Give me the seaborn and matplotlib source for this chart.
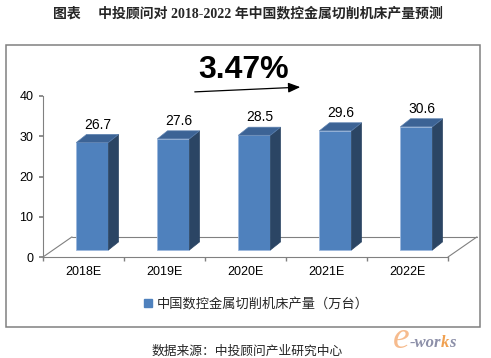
import numpy as np
import pandas as pd
import matplotlib
matplotlib.use("Agg")
import matplotlib.pyplot as plt
import seaborn as sns
from matplotlib.patches import Polygon, Rectangle, Patch

# chart data
years = ["2018E", "2019E", "2020E", "2021E", "2022E"]
output = [26.7, 27.6, 28.5, 29.6, 30.6]
y_ticks = [0, 10, 20, 30, 40]
growth_label = "3.47%"
series_name = "中国数控金属切削机床产量（万台）"
title = "图表　 中投顾问对 2018-2022 年中国数控金属切削机床产量预测"
source = "数据来源：中投顾问产业研究中心"

FRONT = "#4F81BD"
SIDE = "#2B4564"
TOP = "#3C6395"
GRID = "#808080"

sns.set_theme(style="white")
plt.rcParams["font.family"] = ["Liberation Sans", "Noto Sans CJK SC"]

fig = plt.figure(figsize=(4.91, 3.58), dpi=100)
W, H = 491, 358
ax = fig.add_axes([43 / W, (H - 257) / H, 405 / W, 161 / H])

df = pd.DataFrame({"year": years, "value": output})
sns.barplot(data=df, x="year", y="value", color=FRONT, saturation=1,
            width=0.395, edgecolor="#9DB9DD", linewidth=0.6, ax=ax)

ax.set_xlim(-0.5, len(years) - 0.5)
ax.set_ylim(0, 40)
ax.set_yticks(y_ticks)
ax.set_xlabel("")
ax.set_ylabel("")

# pseudo 3D: shift the front faces back into the floor and add side/top faces
FX, FY = 0.11, 1.75      # front-face offset inside the floor depth
DX, DY = 0.125, 2.0      # bar depth
FLOOR_X, FLOOR_Y = 0.358, 5.0
for p, v in zip(ax.patches, output):
    p.set_x(p.get_x() + FX)
    p.set_y(p.get_y() + FY)
    x0, w = p.get_x(), p.get_width()
    y0, y1 = p.get_y(), p.get_y() + p.get_height()
    side = Polygon([(x0 + w, y0), (x0 + w + DX, y0 + DY), (x0 + w + DX, y1 + DY), (x0 + w, y1)],
                   closed=True, fc=SIDE, ec=SIDE, lw=0.5, zorder=p.get_zorder())
    top = Polygon([(x0, y1), (x0 + DX, y1 + DY), (x0 + w + DX, y1 + DY), (x0 + w, y1)],
                  closed=True, fc=TOP, ec="#5A7FAE", lw=0.5, zorder=p.get_zorder())
    ax.add_patch(side)
    ax.add_patch(top)
    ax.annotate(f"{v:.1f}", (x0 + w / 2 + DX / 2, y1 + DY), xytext=(0, 2),
                textcoords="offset points", ha="center", va="bottom",
                fontsize=10, color="black")

# floor outline
xl, xr = -0.5, len(years) - 0.5
ax.plot([xl, xl + FLOOR_X], [0, FLOOR_Y], color=GRID, lw=0.8, clip_on=False, zorder=0.5)
ax.plot([xr, xr + FLOOR_X], [0, FLOOR_Y], color=GRID, lw=0.8, clip_on=False, zorder=0.5)
ax.plot([xl + FLOOR_X, xr + FLOOR_X], [FLOOR_Y, FLOOR_Y], color=GRID, lw=0.8, clip_on=False, zorder=0.5)

for s in ["top", "right"]:
    ax.spines[s].set_visible(False)
for s in ["left", "bottom"]:
    ax.spines[s].set_color(GRID)
    ax.spines[s].set_linewidth(0.8)

ax.set_xticks(np.arange(len(years) + 1) - 0.5, minor=True)
ax.tick_params(axis="x", which="major", length=0, pad=6.5, labelsize=9, colors="black")
ax.tick_params(axis="x", which="minor", bottom=True, length=3, color=GRID, direction="out")
ax.tick_params(axis="y", left=True, length=3, color=GRID, direction="out", pad=4, labelsize=9,
               labelcolor="black")

# growth annotation
fig.text(243.5 / W, 1 - 70 / H, growth_label, ha="center", va="center", fontsize=23,
         fontweight="bold", color="black")
ax_arrow = fig.add_axes([0, 0, 1, 1], facecolor="none")
ax_arrow.set_axis_off()
ax_arrow.set_xlim(0, W)
ax_arrow.set_ylim(H, 0)
ax_arrow.annotate("", xy=(303, 87), xytext=(192, 92),
                  arrowprops=dict(arrowstyle="-|>,head_length=0.6,head_width=0.25", color="black", lw=0.9))

# frame, title, legend, source
fig.patches.append(Rectangle((6 / W, 1 - 327 / H), 474 / W, 282 / H, transform=fig.transFigure,
                             fill=False, ec=GRID, lw=1.1))
fig.text(248 / W, 1 - 13 / H, title, ha="center", va="center", fontsize=10, fontweight="bold",
         family=["Liberation Serif", "Noto Sans CJK SC"])
fig.legend(handles=[Patch(facecolor=FRONT, edgecolor=FRONT, label=series_name)],
           loc="center left", bbox_to_anchor=(144 / W, 1 - 304 / H), frameon=False,
           fontsize=9.5, handlelength=0.6, handleheight=0.6, handletextpad=0.4, borderpad=0,
           borderaxespad=0)
fig.text(247 / W, 1 - 352 / H, source, ha="center", va="center", fontsize=9.2)

# watermark
wm = fig.text(393 / W, 1 - 348 / H, "e", ha="left", va="baseline", fontsize=27, style="italic",
              color="#F5B07A", alpha=0.85, family="Liberation Serif")
prev = wm
for piece, col in [("-wor", "#8C8FA8"), ("k", "#F0A050"), ("s", "#8C8FA8")]:
    prev = ax_arrow.annotate(piece, xy=(1, 0), xycoords=prev, xytext=(0, 3.5 if prev is wm else 0),
                             textcoords="offset points", ha="left", va="bottom", fontsize=12,
                             style="italic", fontweight="bold", color=col,
                             family="Liberation Serif")

fig.savefig("out.png", dpi=100)
